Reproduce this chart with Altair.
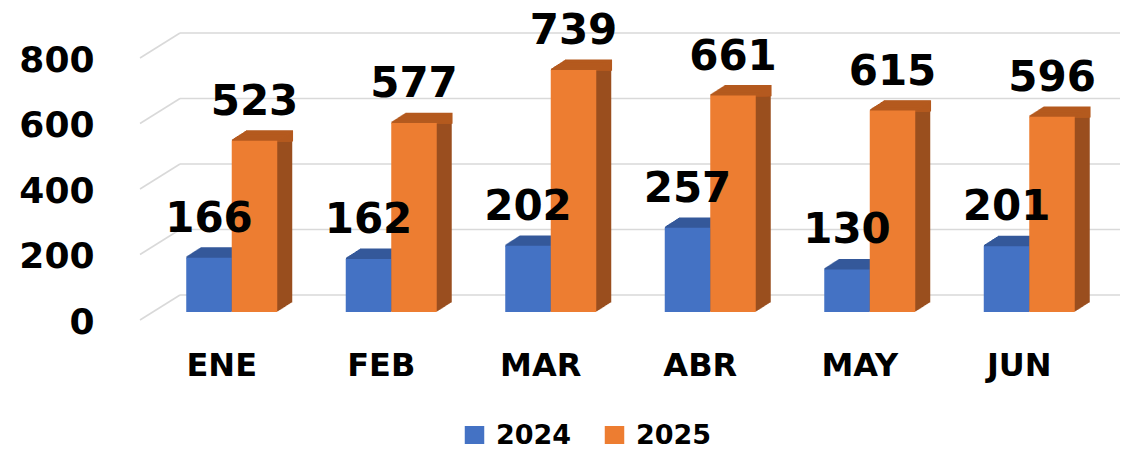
import altair as alt
import pandas as pd

months = ["ENE", "FEB", "MAR", "ABR", "MAY", "JUN"]
years = ["2024", "2025"]
values_2024 = [166, 162, 202, 257, 130, 201]
values_2025 = [523, 577, 739, 661, 615, 596]
y_ticks = [0, 200, 400, 600, 800]

df24 = pd.DataFrame({"mes": months, "anio": years[0], "valor": values_2024})
df25 = pd.DataFrame({"mes": months, "anio": years[1], "valor": values_2025})
df_all = pd.concat([df24, df25], ignore_index=True)
grid_df = pd.DataFrame({"v": y_ticks})

front_colors = ["#4472C4", "#ED7D31"]
top_colors = ["#34589A", "#B45A1F"]
side_colors = ["#2E4E8A", "#9A4F1F"]
FONT = "DejaVu Sans"

W, H = 957, 262
DEPTH = 15
HALF = 22.75  # quarter of the paired-bar band: each bar is half the band

xscale = alt.Scale(domain=months, paddingInner=0.4295, paddingOuter=0.2147)
yscale = alt.Scale(domain=[0, 800], nice=False, zero=True)
x_axis = alt.Axis(domain=False, ticks=False, labelAngle=0, labelFont=FONT,
                  labelFontWeight="bold", labelFontSize=32, labelColor="black",
                  labelPadding=63, labelBaseline="alphabetic", labelOffset=-10)
y_axis = alt.Axis(values=y_ticks, domain=False, ticks=False, grid=False,
                  labelFont=FONT, labelFontWeight="bold", labelFontSize=36,
                  labelColor="black", labelPadding=58, labelOffset=10,
                  labelBaseline="middle", labelOverlap=False)

x_enc = alt.X("mes:N", scale=xscale, sort=months, axis=x_axis, title=None)
y_enc = alt.Y("valor:Q", scale=yscale, axis=y_axis, title=None)
bar_w = alt.RelativeBandSize(band=0.5)

layers = []
grid_y = alt.Y("v:Q", scale=yscale, axis=y_axis, title=None)
layers.append(alt.Chart(grid_df).mark_rule(color="#D9D9D9", strokeWidth=1.5, yOffset=-17).encode(
    y=grid_y, x=alt.value(28), x2=alt.value(968)))
layers.append(alt.Chart(grid_df).mark_rule(color="#D9D9D9", strokeWidth=1.5, yOffset=8, y2Offset=-17).encode(
    y=grid_y, y2=alt.Y2("v:Q"), x=alt.value(-12), x2=alt.value(28)))

series = [(df24, -HALF, 0), (df25, HALF, 1)]

# side faces (extrusion)
for d, shift, i in series:
    for k in range(DEPTH, 0, -1):
        layers.append(alt.Chart(d).mark_bar(width=bar_w, xOffset=shift + k, yOffset=-k * 0.64,
                                            color=side_colors[i]).encode(x=x_enc, y=y_enc))
# top faces
for d, shift, i in series:
    for k in range(DEPTH, 0, -1):
        layers.append(alt.Chart(d).mark_bar(width=bar_w, xOffset=shift + k, yOffset=-k * 0.64,
                                            color=top_colors[i], stroke=top_colors[i],
                                            strokeWidth=1.6).encode(
            x=x_enc, y=y_enc, y2=alt.Y2("valor:Q")))
# front faces
for d, shift, i in series:
    layers.append(alt.Chart(d).mark_bar(width=bar_w, xOffset=shift).encode(
        x=x_enc, y=y_enc,
        color=alt.Color("anio:N", scale=alt.Scale(domain=years, range=front_colors),
                        legend=alt.Legend(title=None, orient="none", legendX=309, legendY=372,
                                          direction="horizontal", symbolType="square",
                                          symbolSize=380, symbolStrokeWidth=0, labelFont=FONT,
                                          labelFontWeight="bold", labelFontSize=27,
                                          labelColor="black", labelOffset=8, columnPadding=29,
                                          padding=0))))
# value labels
for d, shift, i in series:
    layers.append(alt.Chart(d).mark_text(font=FONT, fontWeight="bold", fontSize=42, color="black",
                                         baseline="alphabetic", dy=-26, xOffset=shift).encode(
        x=x_enc, y=y_enc, text=alt.Text("valor:Q")))

chart = alt.layer(*layers).properties(
    width=W, height=H,
    autosize=alt.AutoSizeParams(type="none"),
    padding={"left": 144, "top": 42, "right": 20, "bottom": 132},
).configure_view(stroke=None)

chart.save("out.html", embed_options={"renderer": "svg", "actions": False})
